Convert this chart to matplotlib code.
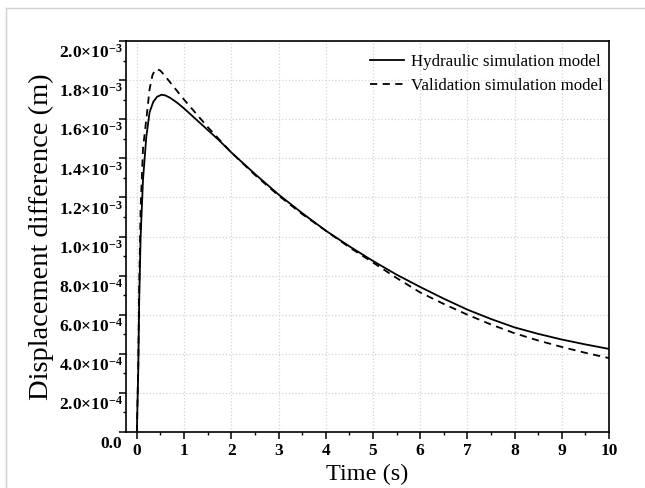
import numpy as np
import matplotlib
matplotlib.use("Agg")
import matplotlib.pyplot as plt
from matplotlib.lines import Line2D
from matplotlib.transforms import ScaledTranslation

plt.rcParams['font.family'] = ['Liberation Serif', 'DejaVu Serif']
plt.rcParams['mathtext.fontset'] = 'custom'
plt.rcParams['mathtext.rm'] = 'Liberation Serif:bold'
plt.rcParams['mathtext.it'] = 'Liberation Serif:bold'
plt.rcParams['mathtext.bf'] = 'Liberation Serif:bold'

# data (displacement in m)
t_hyd = [0.0, 0.03, 0.05, 0.08, 0.13, 0.2, 0.27, 0.35, 0.43, 0.52, 0.6, 0.7, 0.85, 1.0, 1.25, 1.5, 1.75,
         2.0, 2.5, 3.0, 3.5, 4.0, 4.5, 5.0, 5.5, 6.0, 6.5, 7.0, 7.5, 8.0, 8.5, 9.0, 9.5, 10.0]
d_hyd = [0.0, 0.32, 0.68, 1.0, 1.29, 1.51, 1.636, 1.69, 1.715, 1.725, 1.722, 1.71, 1.685, 1.655, 1.60, 1.545,
         1.49, 1.43, 1.32, 1.215, 1.12, 1.03, 0.95, 0.875, 0.805, 0.742, 0.682, 0.626, 0.578, 0.535, 0.502,
         0.473, 0.448, 0.425]
t_val = [0.0, 0.03, 0.05, 0.08, 0.13, 0.2, 0.27, 0.33, 0.38, 0.43, 0.5, 0.6, 0.7, 0.85, 1.0, 1.25, 1.5, 1.75,
         2.0, 2.5, 3.0, 3.5, 4.0, 4.5, 5.0, 5.5, 6.0, 6.5, 7.0, 7.5, 8.0, 8.5, 9.0, 9.5, 10.0]
d_val = [0.0, 0.35, 0.75, 1.15, 1.45, 1.60, 1.754, 1.825, 1.850, 1.856, 1.848, 1.82, 1.79, 1.745, 1.70, 1.63,
         1.56, 1.495, 1.43, 1.315, 1.21, 1.115, 1.03, 0.945, 0.867, 0.788, 0.714, 0.655, 0.600, 0.550, 0.505,
         0.468, 0.435, 0.405, 0.378]

yticks = [0.0, 2e-4, 4e-4, 6e-4, 8e-4, 1.0e-3, 1.2e-3, 1.4e-3, 1.6e-3, 1.8e-3, 2.0e-3]
ylabels = ['0.0', '$2.0×10^{-4}$', '$4.0×10^{-4}$', '$6.0×10^{-4}$', '$8.0×10^{-4}$',
           '$1.0×10^{-3}$', '$1.2×10^{-3}$', '$1.4×10^{-3}$', '$1.6×10^{-3}$', '$1.8×10^{-3}$',
           '$2.0×10^{-3}$']
xticks = list(range(0, 11))

fig = plt.figure(figsize=(6.45, 4.88), dpi=100)
ax = fig.add_axes([126/645, 1-432/488, (609-126)/645, (432-41)/488])

ax.plot(t_hyd, np.array(d_hyd)*1e-3, color='black', lw=1.3, label='Hydraulic simulation model')
ax.plot(t_val, np.array(d_val)*1e-3, color='black', lw=1.3, linestyle=(0, (4, 3)),
        label='Validation simulation model')

ax.set_xlim(-0.23, 10)
ax.set_ylim(0, 2.0e-3)
ax.set_xticks(xticks)
ax.set_xticks(np.arange(0.5, 10, 1.0), minor=True)
ax.set_yticks(yticks)
ax.set_yticklabels(ylabels)
ax.set_yticks(np.arange(1e-4, 2e-3, 2e-4), minor=True)
ax.grid(True, which='major', color='#d4d4d4', linestyle=':', linewidth=0.9)

ax.tick_params(which='major', direction='out', length=5, width=1.1, labelsize=12.5, pad=0.5)
ax.tick_params(which='minor', direction='out', length=2.5, width=1.0)
ax.tick_params(axis='x', pad=3)
for lab in ax.get_xticklabels():
    lab.set_fontweight('bold')
for lab in ax.get_yticklabels():
    lab.set_fontweight('bold')
    lab.set_transform(lab.get_transform() + ScaledTranslation(4/100, -10/100, fig.dpi_scale_trans))
for s in ax.spines.values():
    s.set_linewidth(1.2)

ax.set_xlabel('Time (s)', fontsize=17.5)
ax.xaxis.set_label_coords(0.5, -(464-432)/391)
ax.set_ylabel('Displacement difference (m)', fontsize=20.5)
ax.yaxis.set_label_coords(-(126-54)/483, 0.5)

ax.legend(loc='upper right', bbox_to_anchor=(1.0, 0.985), frameon=False, fontsize=12.2,
          handlelength=2.0, handletextpad=0.4, labelspacing=0.5, borderaxespad=0.0)

# light frame round the figure
fig.add_artist(Line2D([6/645, 6/645], [0, 1-8/488], color='#d0d0d0', lw=1, transform=fig.transFigure))
fig.add_artist(Line2D([6/645, 1], [1-8/488, 1-8/488], color='#d0d0d0', lw=1, transform=fig.transFigure))

fig.savefig('out.png', dpi=100)
